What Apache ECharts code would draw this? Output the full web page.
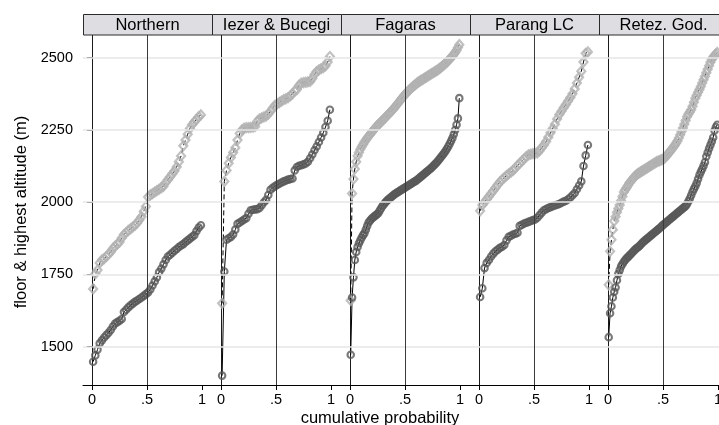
<!DOCTYPE html>
<html>
<head>
<meta charset="utf-8">
<script src="https://cdn.jsdelivr.net/npm/echarts@6/dist/echarts.min.js"></script>
<style>
    html, body { margin: 0; padding: 0; background: #fff; }
    #chart { width: 719px; height: 425px; }
</style>
</head>
<body>
<div id="chart"></div>
<script>
const ranges = ['Northern', 'Iezer & Bucegi', 'Fagaras', 'Parang LC', 'Retez. God.'];
const yTicks = [1500, 1750, 2000, 2250, 2500];
const xTicks = [0, 0.5, 1];
const xTickLabels = ['0', '.5', '1'];

// floor altitude (m), sorted, per range
const floorNorthern = [1448, 1470, 1490, 1512, 1522, 1532, 1540, 1548, 1558, 1570,
    1580, 1585, 1590, 1596, 1620, 1628, 1636, 1643, 1649, 1655,
    1660, 1665, 1670, 1676, 1682, 1688, 1698, 1712, 1726, 1740,
    1758, 1770, 1785, 1800, 1812, 1818, 1825, 1832, 1838, 1845,
    1850, 1855, 1862, 1868, 1874, 1880, 1886, 1900, 1912, 1920];
const floorIezer = [1400, 1760, 1870, 1875, 1880, 1888, 1905, 1925, 1930, 1935,
    1940, 1945, 1960, 1972, 1974, 1975, 1976, 1980, 1990, 2000,
    2008, 2025, 2043, 2050, 2055, 2060, 2064, 2068, 2072, 2075,
    2078, 2080, 2082, 2110, 2122, 2126, 2128, 2131, 2134, 2140,
    2152, 2165, 2180, 2193, 2208, 2224, 2240, 2260, 2282, 2320];
const floorFagaras = [1472, 1670, 1740, 1800, 1828, 1845, 1858, 1868, 1878, 1886,
    1893, 1905, 1918, 1930, 1936, 1942, 1946, 1950, 1954, 1958,
    1962, 1970, 1978, 1986, 1992, 1998, 2003, 2008, 2012, 2016,
    2020, 2024, 2028, 2031, 2034, 2037, 2040, 2043, 2046, 2049,
    2052, 2055, 2058, 2061, 2064, 2067, 2070, 2073, 2076, 2080,
    2084, 2088, 2092, 2096, 2100, 2104, 2108, 2112, 2116, 2120,
    2125, 2130, 2135, 2140, 2146, 2152, 2158, 2164, 2170, 2177,
    2185, 2193, 2202, 2212, 2222, 2235, 2250, 2268, 2290, 2360];
const floorParang = [1672, 1702, 1772, 1790, 1800, 1812, 1822, 1830, 1836, 1842,
    1846, 1852, 1868, 1880, 1884, 1888, 1891, 1894, 1918, 1922,
    1926, 1929, 1932, 1935, 1938, 1940, 1946, 1955, 1964, 1972,
    1976, 1980, 1983, 1986, 1989, 1991, 1994, 1998, 2002, 2005,
    2010, 2016, 2024, 2032, 2045, 2058, 2072, 2125, 2162, 2198];
const floorRetez = [1533, 1616, 1640, 1670, 1690, 1705, 1730, 1752, 1765, 1778,
    1786, 1794, 1800, 1806, 1810, 1815, 1820, 1825, 1830, 1835,
    1840, 1843, 1847, 1852, 1857, 1862, 1866, 1870, 1874, 1878,
    1882, 1886, 1890, 1894, 1898, 1902, 1906, 1910, 1914, 1919,
    1923, 1927, 1931, 1935, 1939, 1943, 1947, 1951, 1955, 1959,
    1963, 1967, 1971, 1975, 1979, 1983, 1987, 1994, 2003, 2013,
    2024, 2036, 2046, 2055, 2066, 2080, 2094, 2105, 2115, 2126,
    2138, 2158, 2172, 2186, 2198, 2210, 2224, 2248, 2260, 2268];

// highest altitude (m), sorted, per range
const highNorthern = [1700, 1752, 1765, 1790, 1800, 1805, 1812, 1820, 1828, 1840,
    1848, 1855, 1862, 1876, 1888, 1895, 1902, 1908, 1914, 1920,
    1928, 1938, 1950, 1968, 1985, 2018, 2025, 2030, 2035, 2040,
    2045, 2050, 2055, 2068, 2078, 2088, 2098, 2108, 2122, 2140,
    2160, 2195, 2215, 2235, 2255, 2268, 2278, 2286, 2296, 2302];
const highIezer = [1650, 2072, 2110, 2135, 2155, 2172, 2188, 2215, 2238, 2250,
    2256, 2258, 2258, 2259, 2260, 2262, 2280, 2288, 2292, 2295,
    2298, 2305, 2315, 2325, 2335, 2340, 2345, 2350, 2355, 2358,
    2362, 2368, 2375, 2385, 2390, 2405, 2412, 2414, 2415, 2416,
    2418, 2428, 2442, 2452, 2458, 2462, 2466, 2472, 2485, 2504];
const highFagaras = [1660, 2030, 2080, 2115, 2140, 2160, 2172, 2183, 2192, 2200,
    2208, 2215, 2222, 2228, 2234, 2240, 2246, 2252, 2258, 2263,
    2268, 2273, 2278, 2282, 2287, 2292, 2297, 2302, 2307, 2312,
    2317, 2322, 2328, 2334, 2340, 2346, 2352, 2358, 2364, 2370,
    2375, 2380, 2385, 2390, 2395, 2399, 2403, 2407, 2411, 2415,
    2418, 2421, 2424, 2427, 2430, 2433, 2436, 2439, 2442, 2445,
    2448, 2451, 2454, 2457, 2460, 2464, 2468, 2472, 2476, 2480,
    2485, 2490, 2495, 2500, 2506, 2512, 2518, 2526, 2535, 2545];
const highParang = [1970, 1990, 2000, 2010, 2020, 2030, 2040, 2050, 2060, 2070,
    2078, 2085, 2092, 2098, 2104, 2110, 2118, 2127, 2134, 2142,
    2150, 2158, 2164, 2166, 2168, 2169, 2171, 2178, 2188, 2198,
    2210, 2225, 2240, 2255, 2270, 2288, 2303, 2315, 2327, 2338,
    2350, 2362, 2375, 2392, 2412, 2432, 2453, 2485, 2515, 2520];
const highRetez = [1714, 1830, 1870, 1905, 1935, 1950, 1965, 1978, 1990, 2005,
    2020, 2035, 2043, 2050, 2058, 2066, 2072, 2078, 2084, 2089,
    2094, 2098, 2101, 2104, 2107, 2110, 2113, 2116, 2119, 2122,
    2125, 2128, 2131, 2134, 2137, 2140, 2142, 2144, 2146, 2148,
    2150, 2154, 2160, 2166, 2172, 2178, 2184, 2190, 2197, 2204,
    2212, 2222, 2233, 2245, 2257, 2270, 2283, 2296, 2305, 2312,
    2320, 2332, 2346, 2360, 2370, 2380, 2390, 2400, 2412, 2424,
    2435, 2448, 2460, 2472, 2484, 2494, 2502, 2508, 2513, 2518];

const floorData = [floorNorthern, floorIezer, floorFagaras, floorParang, floorRetez];
const highData = [highNorthern, highIezer, highFagaras, highParang, highRetez];

const FONT = '"Liberation Sans", Arial, Helvetica, sans-serif';
const panelLeft = 83;
const panelWidth = 129;
const plotTop = 35;
const plotHeight = 350;

// plotting position: cumulative probability of each sorted value
function toQuantile(values) {
    return values.map((v, i) => [(i + 0.5) / values.length, v]);
}

const grids = [];
const xAxes = [];
const yAxes = [];
const series = [];
const graphics = [];

ranges.forEach((name, i) => {
    const left = panelLeft + panelWidth * i;

    grids.push({
        left: left,
        top: plotTop,
        width: panelWidth,
        height: plotHeight,
        containLabel: false,
        outerBoundsMode: 'none',
    });

    xAxes.push({
        gridIndex: i,
        type: 'value',
        min: -0.082,
        max: 1.091,
        axisLine: { show: true, onZero: false, lineStyle: { color: '#000', width: 1 } },
        axisTick: { show: true, length: 5, customValues: xTicks, lineStyle: { color: '#000' } },
        axisLabel: {
            show: true,
            customValues: xTicks,
            margin: 7,
            color: '#000',
            fontSize: 14.5,
            fontFamily: FONT,
            formatter: (v) => xTickLabels[xTicks.indexOf(v)],
        },
        splitLine: { show: false },
    });

    yAxes.push({
        gridIndex: i,
        type: 'value',
        min: 1367.5,
        max: 2578.5,
        axisLine: { show: true, lineStyle: { color: '#1a1a1a', width: 1 } },
        axisTick: { show: i === 0, length: 5, customValues: yTicks, lineStyle: { color: '#000' } },
        axisLabel: {
            show: i === 0,
            customValues: yTicks,
            margin: 10,
            color: '#000',
            fontSize: 14.5,
            fontFamily: FONT,
            formatter: (v) => String(v),
        },
        splitLine: { show: false },
    });

    // gridlines and the .5 reference line, kept under everything
    series.push({
        type: 'line',
        xAxisIndex: i,
        yAxisIndex: i,
        data: [],
        z: 1,
        silent: true,
        markLine: {
            silent: true,
            symbol: 'none',
            label: { show: false },
            animation: false,
            data: yTicks.map((t) => ({
                yAxis: t,
                lineStyle: { color: '#e6e6e6', width: 1.5, type: 'solid' },
            })).concat([{
                xAxis: 0.5,
                lineStyle: { color: '#3a3a3a', width: 1, type: 'solid' },
            }]),
        },
    });

    const floorPts = toQuantile(floorData[i]);
    const highPts = toQuantile(highData[i]);

    // connecting lines sit below the hollow markers
    series.push({
        type: 'line',
        xAxisIndex: i,
        yAxisIndex: i,
        data: highPts,
        symbol: 'none',
        lineStyle: { color: '#000', width: 1, type: [5, 3] },
        z: 2,
        silent: true,
    });
    series.push({
        type: 'line',
        xAxisIndex: i,
        yAxisIndex: i,
        data: floorPts,
        symbol: 'none',
        lineStyle: { color: '#000', width: 1 },
        z: 2,
        silent: true,
    });
    series.push({
        type: 'scatter',
        xAxisIndex: i,
        yAxisIndex: i,
        data: highPts,
        symbol: 'diamond',
        symbolSize: [8, 9],
        itemStyle: { color: 'rgba(255,255,255,0)', borderColor: '#b2b2b2', borderWidth: 2.2 },
        z: 3,
        silent: true,
    });
    series.push({
        type: 'scatter',
        xAxisIndex: i,
        yAxisIndex: i,
        data: floorPts,
        symbol: 'circle',
        symbolSize: 6.5,
        itemStyle: { color: 'rgba(255,255,255,0)', borderColor: '#585858', borderWidth: 2.1 },
        z: 3,
        silent: true,
    });

    // header strip
    graphics.push({
        type: 'rect',
        shape: { x: left + 0.5, y: 14.5, width: panelWidth, height: 20.5 },
        style: { fill: '#dedee2', stroke: '#2a2a2a', lineWidth: 1 },
        z: 10,
    });
    graphics.push({
        type: 'text',
        style: {
            text: name,
            x: left + panelWidth / 2,
            y: 25,
            textAlign: 'center',
            textVerticalAlign: 'middle',
            fontSize: 16.5,
            fontFamily: FONT,
            fill: '#000',
        },
        z: 11,
    });
});

graphics.push({
    type: 'text',
    style: {
        text: 'cumulative probability',
        x: 380,
        y: 418,
        textAlign: 'center',
        textVerticalAlign: 'middle',
        fontSize: 16.5,
        fontFamily: FONT,
        fill: '#000',
    },
});
graphics.push({
    type: 'text',
    rotation: Math.PI / 2,
    x: 21,
    y: 212,
    style: {
        text: 'floor & highest altitude (m)',
        x: 0,
        y: 0,
        textAlign: 'center',
        textVerticalAlign: 'middle',
        fontSize: 16.5,
        fontFamily: FONT,
        fill: '#000',
    },
});

const chart = echarts.init(document.getElementById('chart'), null, { renderer: 'canvas' });
chart.setOption({
    animation: false,
    backgroundColor: '#fff',
    grid: grids,
    xAxis: xAxes,
    yAxis: yAxes,
    series: series,
    graphic: graphics,
});
</script>
</body>
</html>
